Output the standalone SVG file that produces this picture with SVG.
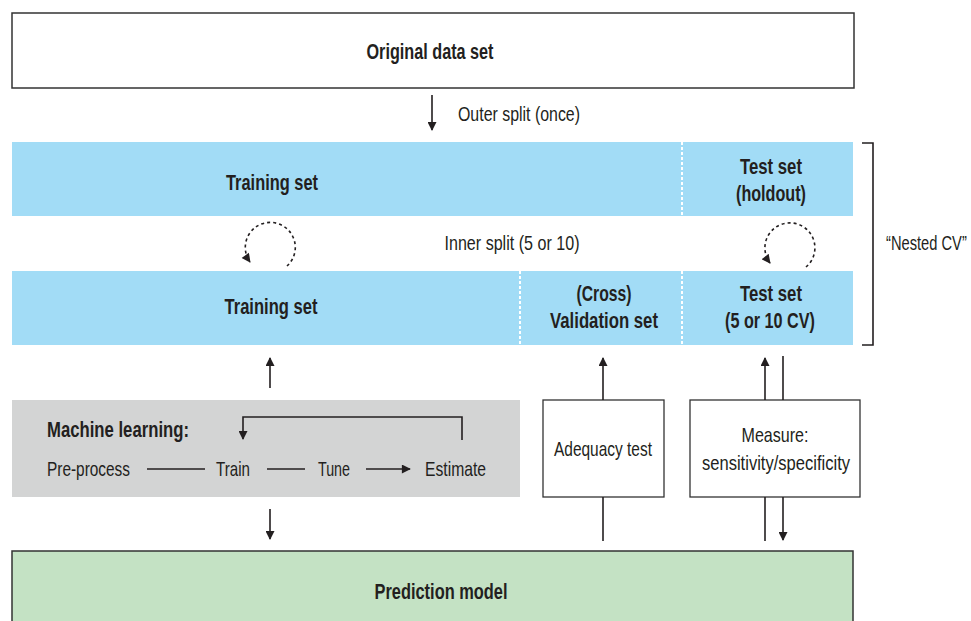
<svg xmlns="http://www.w3.org/2000/svg" width="971" height="621" viewBox="0 0 971 621">
<style>
text{font-family:"Liberation Sans","DejaVu Sans",sans-serif;fill:#231f20}
.b{font-weight:bold;font-size:22px;text-anchor:middle}
.r{font-size:21px}
.c{text-anchor:middle}
.blue{fill:#a2dcf6}
.ln{stroke:#231f20;stroke-width:1.6;fill:none}
.dash{stroke:#231f20;stroke-width:1.6;fill:none;stroke-dasharray:3 3}
.div{stroke:#fff;stroke-width:2;stroke-dasharray:3 2}
</style>
<defs>
<marker id="ah" viewBox="0 0 10 10" refX="9" refY="5" markerWidth="14" markerHeight="9" orient="auto" markerUnits="userSpaceOnUse"><path d="M0,0 L10,5 L0,10 z" fill="#231f20"/></marker>
<marker id="ahw" viewBox="0 0 10 10" refX="9" refY="5" markerWidth="14" markerHeight="9" orient="auto" markerUnits="userSpaceOnUse"><path d="M0,0 L10,5 L0,10 z" fill="#231f20"/></marker>
</defs>
<rect width="971" height="621" fill="#fff"/>
<g id="original">
<rect x="12" y="13" width="842" height="75" fill="#fff" stroke="#333" stroke-width="1.5"/>
<text class="b" x="430" y="59" textLength="127" lengthAdjust="spacingAndGlyphs">Original data set</text>
</g>
<g id="outer-split">
<text class="r" x="458" y="121" textLength="122" lengthAdjust="spacingAndGlyphs">Outer split (once)</text>
</g>
<g id="band1">
<rect class="blue" x="12" y="142" width="841" height="74"/>
<line class="div" x1="682" y1="142" x2="682" y2="216"/>
<text class="b" x="272" y="190" textLength="92" lengthAdjust="spacingAndGlyphs">Training set</text>
<text class="b" x="771" y="174" textLength="62" lengthAdjust="spacingAndGlyphs">Test set</text>
<text class="b" x="771" y="201" textLength="70" lengthAdjust="spacingAndGlyphs">(holdout)</text>
</g>
<g id="inner-split">
<text class="r c" x="512" y="250" textLength="135" lengthAdjust="spacingAndGlyphs">Inner split (5 or 10)</text>
</g>
<g id="band2">
<rect class="blue" x="12" y="271" width="841" height="74"/>
<line class="div" x1="520" y1="271" x2="520" y2="345"/>
<line class="div" x1="682" y1="271" x2="682" y2="345"/>
<text class="b" x="271" y="314" textLength="93" lengthAdjust="spacingAndGlyphs">Training set</text>
<text class="b" x="604" y="301" textLength="55" lengthAdjust="spacingAndGlyphs">(Cross)</text>
<text class="b" x="604" y="328" textLength="108" lengthAdjust="spacingAndGlyphs">Validation set</text>
<text class="b" x="771" y="301" textLength="62" lengthAdjust="spacingAndGlyphs">Test set</text>
<text class="b" x="770" y="328" textLength="90" lengthAdjust="spacingAndGlyphs">(5 or 10 CV)</text>
</g>
<g id="nested">
<path class="ln" d="M862,143 H873 V345 H862"/>
<text class="r" transform="translate(886,250) scale(0.7,1)" x="0" y="0">“Nested CV”</text>
</g>
<g id="ml">
<rect x="12" y="400" width="508" height="97" fill="#d3d4d4"/>
<text x="47" y="437" style="font-weight:bold;font-size:22px" textLength="142" lengthAdjust="spacingAndGlyphs">Machine learning:</text>
<text class="r" x="47" y="476" textLength="83" lengthAdjust="spacingAndGlyphs">Pre-process</text>
<text class="r" x="216" y="476" textLength="34" lengthAdjust="spacingAndGlyphs">Train</text>
<text class="r" x="318" y="476" textLength="32" lengthAdjust="spacingAndGlyphs">Tune</text>
<text class="r" x="425" y="476" textLength="61" lengthAdjust="spacingAndGlyphs">Estimate</text>
<line class="ln" x1="147" y1="469" x2="205" y2="469"/>
<line class="ln" x1="267" y1="469" x2="305" y2="469"/>
<line class="ln" x1="366" y1="469" x2="410" y2="469" marker-end="url(#ahw)"/>
<path class="ln" d="M462,440 V417 H243 V439" marker-end="url(#ahw)"/>
</g>
<g id="adequacy">
<rect x="543" y="400" width="121" height="97" fill="#fff" stroke="#333" stroke-width="1.3"/>
<text class="r c" x="603" y="456" textLength="98" lengthAdjust="spacingAndGlyphs">Adequacy test</text>
</g>
<g id="measure">
<rect x="690" y="400" width="170" height="97" fill="#fff" stroke="#333" stroke-width="1.3"/>
<text class="r c" x="775" y="442" textLength="67" lengthAdjust="spacingAndGlyphs">Measure:</text>
<text class="r c" x="776" y="470" textLength="148" lengthAdjust="spacingAndGlyphs">sensitivity/specificity</text>
</g>
<g id="prediction">
<rect x="12" y="551" width="841" height="75" fill="#c4e2c4" stroke="#333" stroke-width="1.5"/>
<text class="b" x="441" y="599" textLength="133" lengthAdjust="spacingAndGlyphs">Prediction model</text>
</g>
<g id="connectors">
<line class="ln" x1="432" y1="95" x2="432" y2="130" marker-end="url(#ahw)"/>
<path class="dash" d="M287,266 A25,25 0 1 0 250,262" marker-end="url(#ah)"/>
<path class="dash" d="M806,267 A25,25 0 1 0 770,263" marker-end="url(#ah)"/>
<line class="ln" x1="270" y1="388" x2="270" y2="358" marker-end="url(#ahw)"/>
<line class="ln" x1="270" y1="509" x2="270" y2="539" marker-end="url(#ahw)"/>
<line class="ln" x1="603" y1="400" x2="603" y2="358" marker-end="url(#ahw)"/>
<line class="ln" x1="603" y1="497" x2="603" y2="541"/>
<line class="ln" x1="765" y1="400" x2="765" y2="358" marker-end="url(#ahw)"/>
<line class="ln" x1="783" y1="356" x2="783" y2="400"/>
<line class="ln" x1="765" y1="497" x2="765" y2="541"/>
<line class="ln" x1="783" y1="497" x2="783" y2="540" marker-end="url(#ahw)"/>
</g>
</svg>
